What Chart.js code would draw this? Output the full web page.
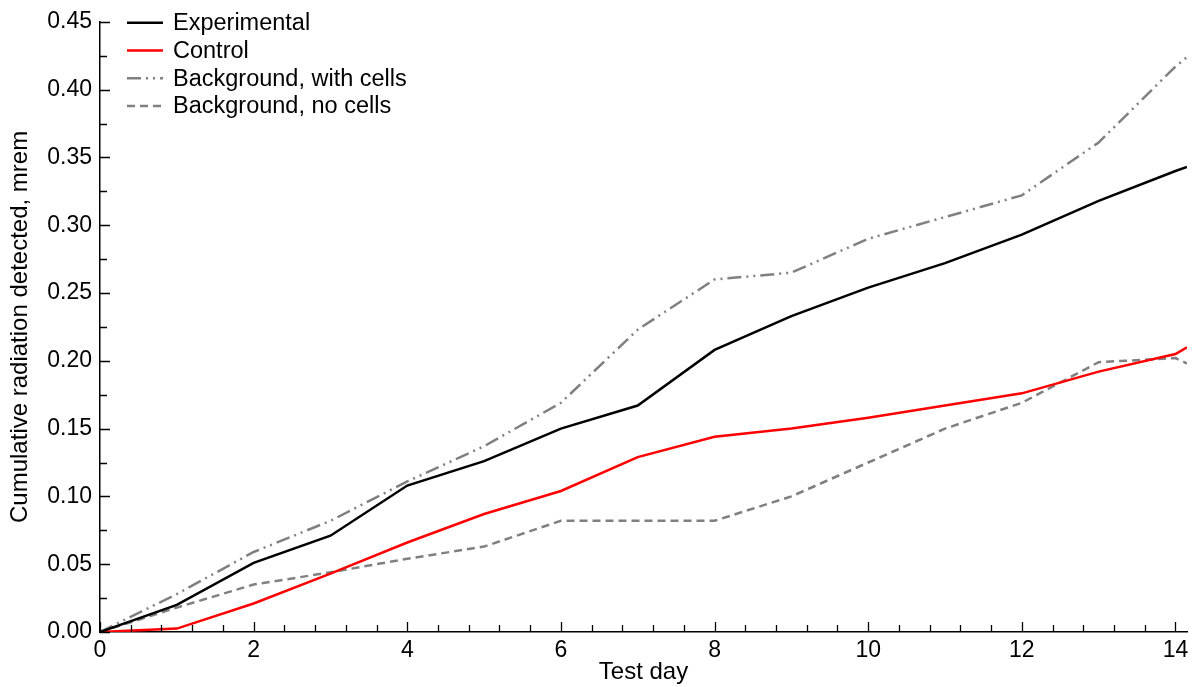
<!DOCTYPE html>
<html>
<head>
<meta charset="utf-8">
<script src="https://cdn.jsdelivr.net/npm/chart.js@4/dist/chart.umd.min.js"></script>
<style>
html,body{margin:0;padding:0;background:#fff;}
#wrap{width:1195px;height:687px;position:relative;}
</style>
</head>
<body>
<div id="wrap"><canvas id="c" width="1195" height="687"></canvas></div>
<script>
const days = [0,1,2,3,4,5,6,7,8,9,10,11,12,13,14,14.15];
const experimental = [0,0.020,0.051,0.071,0.108,0.126,0.150,0.167,0.208,0.233,0.254,0.272,0.293,0.318,0.340,0.343];
const control = [0,0.0025,0.021,0.043,0.066,0.087,0.104,0.129,0.144,0.150,0.158,0.167,0.176,0.192,0.205,0.210];
const bgWithCells = [0,0.028,0.059,0.082,0.111,0.137,0.169,0.223,0.260,0.265,0.290,0.306,0.322,0.361,0.417,0.424];
const bgNoCells = [0,0.018,0.035,0.044,0.054,0.063,0.082,0.082,0.082,0.100,0.125,0.150,0.169,0.199,0.202,0.198];
const xTickValues = [0,2,4,6,8,10,12,14];
const yTickValues = [0,0.05,0.10,0.15,0.20,0.25,0.30,0.35,0.40,0.45];
const xMinorStep = 0.4;
const yMinorStep = 0.025;

const FONT = 'Liberation Sans, Arial, sans-serif';

function pts(ys){ return days.map((d,i)=>({x:d,y:ys[i]})); }

const datasets = [
  {label:'Experimental', data:pts(experimental), borderColor:'#000000', borderWidth:2.5, borderDash:[]},
  {label:'Control', data:pts(control), borderColor:'#ff0000', borderWidth:2.5, borderDash:[]},
  {label:'Background, with cells', data:pts(bgWithCells), borderColor:'#808080', borderWidth:2.5, borderDash:[14,5,2,5,2,5]},
  {label:'Background, no cells', data:pts(bgNoCells), borderColor:'#808080', borderWidth:2.5, borderDash:[8,5]}
];
datasets.forEach(d=>{d.pointRadius=0; d.fill=false; d.tension=0; d.borderCapStyle='butt';});

const tickPlugin = {
  id:'inwardTicks',
  afterDraw(chart){
    const ctx = chart.ctx;
    const xs = chart.scales.x, ys = chart.scales.y;
    const ca = chart.chartArea;
    ctx.save();
    ctx.strokeStyle = '#000';
    ctx.lineWidth = 1.3;
    ctx.beginPath();
    for(let i=0; i*xMinorStep<=xs.max+1e-9; i++){
      const v = i*xMinorStep;
      const px = Math.round(xs.getPixelForValue(v))+0.5;
      const major = xTickValues.some(t=>Math.abs(t-v)<1e-6);
      const len = major?10:7;
      ctx.moveTo(px, ca.bottom); ctx.lineTo(px, ca.bottom-len);
    }
    for(let i=0; i*yMinorStep<=ys.max+1e-9; i++){
      const v = i*yMinorStep;
      const py = Math.round(ys.getPixelForValue(v))+0.5;
      const major = i%2===0;
      const len = major?10:7;
      ctx.moveTo(ca.left, py); ctx.lineTo(ca.left+len, py);
    }
    ctx.stroke();
    // legend
    const lx1 = ca.left+27, lx2 = ca.left+63, tx = ca.left+73;
    let ly = ca.top+1;
    ctx.font = '23.5px '+FONT;
    ctx.textBaseline = 'middle';
    ctx.fillStyle = '#000';
    chart.data.datasets.forEach(ds=>{
      ctx.beginPath();
      ctx.setLineDash(ds.borderDash);
      ctx.strokeStyle = ds.borderColor;
      ctx.lineWidth = ds.borderWidth;
      ctx.moveTo(lx1, ly); ctx.lineTo(lx2, ly);
      ctx.stroke();
      ctx.setLineDash([]);
      ctx.fillText(ds.label, tx, ly+1);
      ly += 27.7;
    });
    ctx.restore();
  }
};

new Chart(document.getElementById('c'), {
  type:'line',
  data:{datasets},
  options:{
    responsive:false,
    animation:false,
    layout:{padding:{top:19,right:8,left:6,bottom:0}},
    plugins:{legend:{display:false}, tooltip:{enabled:false}},
    scales:{
      x:{
        type:'linear', min:0, max:14.15,
        afterBuildTicks(s){ s.ticks = xTickValues.map(v=>({value:v})); },
        afterFit(s){ s.height = 55; },
        grid:{display:false, drawTicks:false},
        border:{display:true, color:'#000', width:1.5},
        ticks:{color:'#000', font:{family:FONT, size:23}, padding:5, maxRotation:0, callback:v=>String(v)},
        title:{display:true, text:'Test day', color:'#000', font:{family:FONT, size:24}, padding:{top:0,bottom:0}}
      },
      y:{
        type:'linear', min:0, max:0.45,
        afterBuildTicks(s){ s.ticks = yTickValues.map(v=>({value:v})); },
        afterFit(s){ s.width = 94; },
        grid:{display:false, drawTicks:false},
        border:{display:true, color:'#000', width:1.5},
        ticks:{color:'#000', font:{family:FONT, size:23}, padding:8, callback:v=>Number(v).toFixed(2)},
        title:{display:true, text:'Cumulative radiation detected, mrem', color:'#000', font:{family:FONT, size:24}, padding:{top:0,bottom:4}}
      }
    }
  },
  plugins:[tickPlugin]
});
</script>
</body>
</html>
